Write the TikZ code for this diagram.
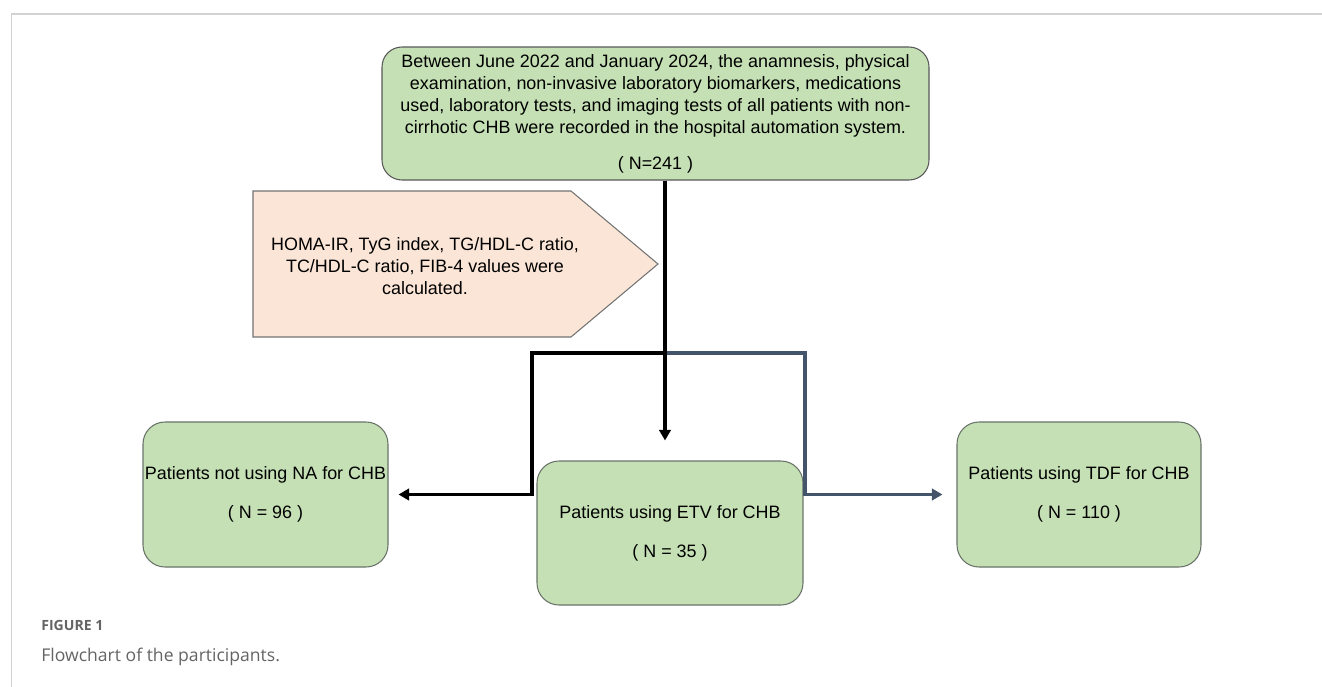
\documentclass[tikz,border=0pt]{standalone}
\usepackage{fontspec}
\setmainfont{Liberation Sans}
\newfontfamily\capfont{Open Sans}
\definecolor{boxgreen}{RGB}{197, 224, 180}
\definecolor{boxpeach}{RGB}{251, 229, 214}
\definecolor{edgegray}{RGB}{105, 115, 105}
\definecolor{slateblue}{RGB}{68, 84, 106}
\definecolor{framegray}{RGB}{210, 210, 210}
\definecolor{captgray}{RGB}{100, 100, 100}
\usetikzlibrary{arrows.meta, positioning, calc}
\tikzset{
  boxfont/.style={font=\fontsize{10.2}{12.5}\selectfont},
  greenbox/.style={boxfont, draw=edgegray, line width=0.6pt, fill=boxgreen, rounded corners=0.44cm, align=center, inner sep=0pt},
  flowline/.style={line width=2.1pt},
  flowarrow/.style={flowline, -{Triangle[length=6pt, width=6.5pt]}}
}

\begin{document}
\begin{tikzpicture}
  \useasboundingbox (0,0) rectangle (26.44,-13.74);

  % Page frame
  \draw[framegray, line width=1.1pt] (26.44,-0.28) -- (0.23,-0.28) -- (0.23,-13.74);

  % Records box
  \node[greenbox, draw=black!65, rounded corners=0.4cm, minimum width=10.94cm, minimum height=2.66cm] (records) at (13.11,-2.27) {
    Between June 2022 and January 2024, the anamnesis, physical\\
    examination, non-invasive laboratory biomarkers, medications\\
    used, laboratory tests, and imaging tests of all patients with non-\\
    cirrhotic CHB were recorded in the hospital automation system.\\[8pt]
    ( N=241 )
  };

  % Calculated indices (pentagon arrow)
  \draw[draw=black!55, line width=0.6pt, fill=boxpeach] (5.06,-3.82) -- (11.42,-3.82) -- (13.16,-5.28) -- (11.42,-6.74) -- (5.06,-6.74) -- cycle;
  \node[boxfont, align=center, inner sep=0pt] (indices) at (8.5,-5.32) {
    HOMA-IR, TyG index, TG/HDL-C ratio,\\
    TC/HDL-C ratio, FIB-4 values were\\
    calculated.
  };

  % Treatment groups
  \node[greenbox, minimum width=4.9cm, minimum height=2.9cm] (nona) at (5.31,-9.89) {
    Patients not using NA for CHB\\[9.7pt]
    ( N = 96 )
  };
  \node[greenbox, minimum width=5.32cm, minimum height=2.88cm] (etv) at (13.4,-10.66) {
    Patients using ETV for CHB\\[9.7pt]
    ( N = 35 )
  };
  \node[greenbox, minimum width=4.88cm, minimum height=2.9cm] (tdf) at (21.58,-9.89) {
    Patients using TDF for CHB\\[9.7pt]
    ( N = 110 )
  };

  % Connectors
  \coordinate (split) at (13.3,-7.06);
  \coordinate (bendL) at (10.64,-9.89);
  \coordinate (bendR) at (16.1,-9.89);
  \draw[flowarrow, slateblue, shorten >=0.28cm] (split) -| (bendR) -- (tdf.west);
  \draw[flowarrow, shorten >=0.2cm] (split) -| (bendL) -- (nona.east);
  \draw[flowarrow, shorten >=0.4cm] (records.south -| split) -- (split |- etv.north);

  % Caption
  \node[anchor=west, inner sep=0pt, text=captgray, font=\capfont\bfseries\fontsize{8}{10}\selectfont] (figlabel) at (0.82,-12.5) {FIGURE 1};
  \node[anchor=west, inner sep=0pt, text=captgray, font=\capfont\fontsize{10}{12}\selectfont] (figcaption) at (0.82,-13.14) {Flowchart of the participants.};
\end{tikzpicture}
\end{document}
